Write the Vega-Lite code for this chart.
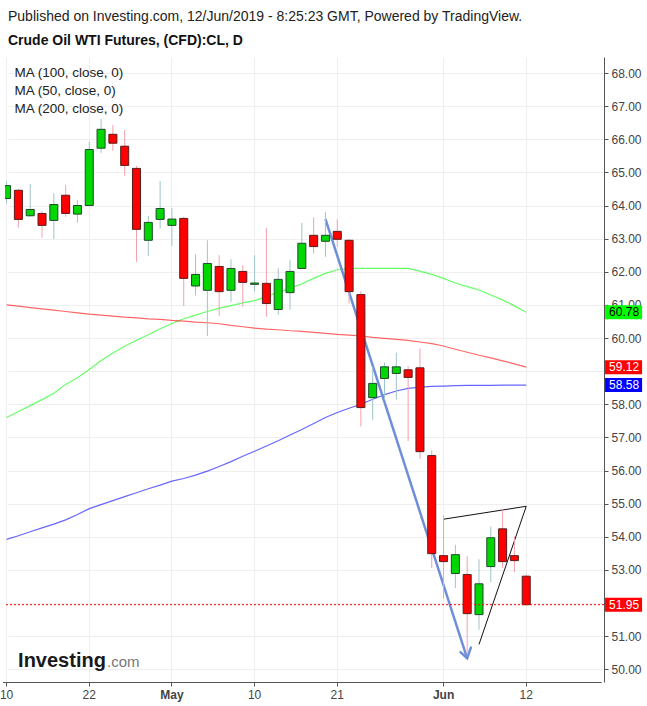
{
  "$schema": "https://vega.github.io/schema/vega-lite/v6.json",
  "width": 599,
  "height": 625,
  "autosize": {"type": "none"},
  "padding": {"left": 5, "top": 57, "right": 43, "bottom": 24},
  "background": "white",
  "config": {"font": "Liberation Sans", "view": {"stroke": null}},
  "title": {
    "text": "Published on Investing.com, 12/Jun/2019 - 8:25:23 GMT, Powered by TradingView.",
    "subtitle": "Crude Oil WTI Futures, (CFD):CL, D",
    "anchor": "start",
    "frame": "group",
    "fontSize": 14,
    "fontWeight": "normal",
    "color": "#222222",
    "subtitleFontSize": 14,
    "subtitleFontWeight": "bold",
    "subtitleColor": "#111111",
    "subtitlePadding": 10,
    "offset": 9,
    "dx": 3
  },
  "datasets": {
    "bars": [
      {"date": "2019-04-10", "open": 64.21, "high": 64.72, "low": 64.06, "close": 64.60, "ma100": 53.92, "ma50": 57.60, "ma200": 61.00},
      {"date": "2019-04-11", "open": 64.46, "high": 64.49, "low": 63.33, "close": 63.58, "ma100": 54.03, "ma50": 57.78, "ma200": 60.96},
      {"date": "2019-04-12", "open": 63.69, "high": 64.65, "low": 63.66, "close": 63.88, "ma100": 54.15, "ma50": 57.96, "ma200": 60.92},
      {"date": "2019-04-15", "open": 63.76, "high": 63.83, "low": 63.02, "close": 63.40, "ma100": 54.27, "ma50": 58.14, "ma200": 60.88},
      {"date": "2019-04-16", "open": 63.55, "high": 64.37, "low": 62.99, "close": 64.03, "ma100": 54.38, "ma50": 58.33, "ma200": 60.84},
      {"date": "2019-04-17", "open": 64.31, "high": 64.62, "low": 63.66, "close": 63.76, "ma100": 54.51, "ma50": 58.60, "ma200": 60.80},
      {"date": "2019-04-18", "open": 63.74, "high": 64.16, "low": 63.48, "close": 64.00, "ma100": 54.67, "ma50": 58.80, "ma200": 60.76},
      {"date": "2019-04-22", "open": 64.00, "high": 65.92, "low": 64.00, "close": 65.69, "ma100": 54.85, "ma50": 59.05, "ma200": 60.72},
      {"date": "2019-04-23", "open": 65.73, "high": 66.61, "low": 65.59, "close": 66.30, "ma100": 54.97, "ma50": 59.32, "ma200": 60.69},
      {"date": "2019-04-24", "open": 66.15, "high": 66.43, "low": 65.65, "close": 65.88, "ma100": 55.09, "ma50": 59.55, "ma200": 60.66},
      {"date": "2019-04-25", "open": 65.79, "high": 66.28, "low": 64.90, "close": 65.21, "ma100": 55.21, "ma50": 59.75, "ma200": 60.63},
      {"date": "2019-04-26", "open": 65.12, "high": 65.19, "low": 62.30, "close": 63.28, "ma100": 55.33, "ma50": 59.93, "ma200": 60.61},
      {"date": "2019-04-29", "open": 62.95, "high": 63.68, "low": 62.48, "close": 63.49, "ma100": 55.45, "ma50": 60.10, "ma200": 60.58},
      {"date": "2019-04-30", "open": 63.58, "high": 64.74, "low": 63.30, "close": 63.91, "ma100": 55.56, "ma50": 60.28, "ma200": 60.56},
      {"date": "2019-05-01", "open": 63.40, "high": 63.92, "low": 62.78, "close": 63.59, "ma100": 55.68, "ma50": 60.44, "ma200": 60.53},
      {"date": "2019-05-02", "open": 63.61, "high": 63.66, "low": 60.97, "close": 61.80, "ma100": 55.76, "ma50": 60.58, "ma200": 60.51},
      {"date": "2019-05-03", "open": 61.57, "high": 62.53, "low": 61.29, "close": 61.92, "ma100": 55.86, "ma50": 60.69, "ma200": 60.48},
      {"date": "2019-05-06", "open": 61.44, "high": 62.95, "low": 60.06, "close": 62.25, "ma100": 55.98, "ma50": 60.80, "ma200": 60.46},
      {"date": "2019-05-07", "open": 62.16, "high": 62.50, "low": 60.67, "close": 61.40, "ma100": 56.12, "ma50": 60.90, "ma200": 60.43},
      {"date": "2019-05-08", "open": 61.44, "high": 62.38, "low": 61.09, "close": 62.10, "ma100": 56.27, "ma50": 60.98, "ma200": 60.38},
      {"date": "2019-05-09", "open": 62.01, "high": 62.20, "low": 60.94, "close": 61.68, "ma100": 56.43, "ma50": 61.06, "ma200": 60.34},
      {"date": "2019-05-10", "open": 61.62, "high": 62.50, "low": 61.41, "close": 61.66, "ma100": 56.58, "ma50": 61.13, "ma200": 60.30},
      {"date": "2019-05-13", "open": 61.65, "high": 63.32, "low": 60.64, "close": 61.04, "ma100": 56.74, "ma50": 61.25, "ma200": 60.27},
      {"date": "2019-05-14", "open": 60.86, "high": 62.11, "low": 60.70, "close": 61.77, "ma100": 56.90, "ma50": 61.38, "ma200": 60.25},
      {"date": "2019-05-15", "open": 61.37, "high": 62.35, "low": 60.85, "close": 62.01, "ma100": 57.07, "ma50": 61.50, "ma200": 60.22},
      {"date": "2019-05-16", "open": 62.10, "high": 63.48, "low": 62.10, "close": 62.86, "ma100": 57.24, "ma50": 61.64, "ma200": 60.20},
      {"date": "2019-05-17", "open": 63.10, "high": 63.64, "low": 62.55, "close": 62.76, "ma100": 57.42, "ma50": 61.80, "ma200": 60.17},
      {"date": "2019-05-20", "open": 62.92, "high": 63.80, "low": 62.45, "close": 63.10, "ma100": 57.60, "ma50": 61.95, "ma200": 60.14},
      {"date": "2019-05-21", "open": 63.22, "high": 63.58, "low": 62.75, "close": 62.98, "ma100": 57.75, "ma50": 62.06, "ma200": 60.11},
      {"date": "2019-05-22", "open": 62.95, "high": 62.98, "low": 61.04, "close": 61.40, "ma100": 57.88, "ma50": 62.10, "ma200": 60.09},
      {"date": "2019-05-23", "open": 61.31, "high": 61.42, "low": 57.33, "close": 57.90, "ma100": 58.00, "ma50": 62.10, "ma200": 60.06},
      {"date": "2019-05-24", "open": 58.20, "high": 59.13, "low": 57.53, "close": 58.63, "ma100": 58.15, "ma50": 62.10, "ma200": 60.02},
      {"date": "2019-05-27", "open": 58.78, "high": 59.26, "low": 58.14, "close": 59.13, "ma100": 58.29, "ma50": 62.10, "ma200": 59.99},
      {"date": "2019-05-28", "open": 58.93, "high": 59.56, "low": 58.14, "close": 59.13, "ma100": 58.40, "ma50": 62.10, "ma200": 59.96},
      {"date": "2019-05-29", "open": 59.04, "high": 59.15, "low": 56.89, "close": 58.81, "ma100": 58.48, "ma50": 62.10, "ma200": 59.93},
      {"date": "2019-05-30", "open": 59.10, "high": 59.68, "low": 56.35, "close": 56.57, "ma100": 58.52, "ma50": 62.02, "ma200": 59.88},
      {"date": "2019-05-31", "open": 56.45, "high": 56.61, "low": 53.06, "close": 53.49, "ma100": 58.54, "ma50": 61.92, "ma200": 59.83},
      {"date": "2019-06-03", "open": 53.43, "high": 54.64, "low": 52.13, "close": 53.25, "ma100": 58.55, "ma50": 61.80, "ma200": 59.76},
      {"date": "2019-06-04", "open": 52.89, "high": 53.76, "low": 52.45, "close": 53.46, "ma100": 58.56, "ma50": 61.66, "ma200": 59.66},
      {"date": "2019-06-05", "open": 52.86, "high": 53.41, "low": 50.47, "close": 51.68, "ma100": 58.57, "ma50": 61.55, "ma200": 59.57},
      {"date": "2019-06-06", "open": 51.65, "high": 53.32, "low": 51.19, "close": 52.58, "ma100": 58.57, "ma50": 61.45, "ma200": 59.48},
      {"date": "2019-06-07", "open": 53.10, "high": 54.31, "low": 52.63, "close": 53.97, "ma100": 58.57, "ma50": 61.30, "ma200": 59.40},
      {"date": "2019-06-10", "open": 54.24, "high": 54.83, "low": 53.06, "close": 53.25, "ma100": 58.58, "ma50": 61.15, "ma200": 59.31},
      {"date": "2019-06-11", "open": 53.43, "high": 54.01, "low": 52.93, "close": 53.28, "ma100": 58.58, "ma50": 60.97, "ma200": 59.22},
      {"date": "2019-06-12", "open": 52.81, "high": 52.86, "low": 51.93, "close": 51.95, "ma100": 58.58, "ma50": 60.78, "ma200": 59.12}
    ],
    "arrow": [
      {"date": "2019-05-20", "v": 63.59},
      {"date": "2019-06-05", "v": 50.33}
    ],
    "arrowTip": [
      {"date": "2019-06-05", "v": 50.33}
    ],
    "wedge": [
      {"seg": "top", "date": "2019-06-03", "v": 54.53},
      {"seg": "top", "date": "2019-06-12", "v": 54.92},
      {"seg": "side", "date": "2019-06-06", "v": 50.75},
      {"seg": "side", "date": "2019-06-12", "v": 54.92}
    ],
    "tags": [
      {"date": "2019-06-20", "series": "ma50", "value": 60.78},
      {"date": "2019-06-20", "series": "ma200", "value": 59.12},
      {"date": "2019-06-20", "series": "ma100", "value": 58.58},
      {"date": "2019-06-20", "series": "close", "value": 51.95}
    ],
    "logo": [
      {"date": "2019-04-10", "part": "Investing", "v": 50.08}
    ]
  },
  "layer": [
    {
      "data": {"name": "bars"},
      "transform": [{"fold": ["ma100", "ma50", "ma200"], "as": ["series", "ma"]}],
      "mark": {"type": "line", "strokeWidth": 1.2, "opacity": 0.6, "clip": true},
      "encoding": {
        "x": {
          "field": "date", "type": "ordinal",
          "scale": {"type": "band", "domain": ["2019-04-10","2019-04-11","2019-04-12","2019-04-15","2019-04-16","2019-04-17","2019-04-18","2019-04-22","2019-04-23","2019-04-24","2019-04-25","2019-04-26","2019-04-29","2019-04-30","2019-05-01","2019-05-02","2019-05-03","2019-05-06","2019-05-07","2019-05-08","2019-05-09","2019-05-10","2019-05-13","2019-05-14","2019-05-15","2019-05-16","2019-05-17","2019-05-20","2019-05-21","2019-05-22","2019-05-23","2019-05-24","2019-05-27","2019-05-28","2019-05-29","2019-05-30","2019-05-31","2019-06-03","2019-06-04","2019-06-05","2019-06-06","2019-06-07","2019-06-10","2019-06-11","2019-06-12","2019-06-13","2019-06-14","2019-06-17","2019-06-18","2019-06-19","2019-06-20"], "range": [-2.42, 596.1], "paddingInner": 0.32, "paddingOuter": 0},
          "axis": {
            "values": ["2019-04-10","2019-04-22","2019-05-01","2019-05-10","2019-05-21","2019-06-03","2019-06-12"],
            "labelExpr": "datum.value == '2019-05-01' ? 'May' : datum.value == '2019-06-03' ? 'Jun' : '' + toNumber(slice(datum.value, 8))",
            "labelFontWeight": {"condition": {"test": "datum.value == '2019-05-01' || datum.value == '2019-06-03'", "value": "bold"}, "value": "normal"},
            "bandPosition": 0.5,
            "title": null,
            "grid": true,
            "gridColor": "#efefef",
            "domainColor": "#555555",
            "tickColor": "#555555",
            "tickSize": 4,
            "labelColor": "#444444",
            "labelFontSize": 12,
            "labelPadding": 3,
            "labelAngle": 0,
            "labelOverlap": false
          }
        },
        "y": {
          "field": "ma", "type": "quantitative",
          "scale": {"domain": [49.616, 68.483], "zero": false, "nice": false},
          "axis": {
            "orient": "right",
            "values": [50,51,52,53,54,55,56,57,58,59,60,61,62,63,64,65,66,67,68],
            "tickCount": 19,
            "labelExpr": "datum.value == 52 || datum.value == 59 ? '' : format(datum.value, '.2f')",
            "title": null,
            "grid": true,
            "gridColor": "#efefef",
            "domainColor": "#555555",
            "tickColor": "#555555",
            "tickSize": 4,
            "labelColor": "#444444",
            "labelFontSize": 12,
            "labelPadding": 3,
            "labelOverlap": false
          }
        },
        "color": {
          "field": "series", "type": "nominal",
          "scale": {"domain": ["ma100", "ma50", "ma200", "close"], "range": ["#0000ff", "#00ff00", "#ff0000", "#ff0000"]},
          "legend": {
            "values": ["ma100", "ma50", "ma200"],
            "labelExpr": "datum.value == 'ma100' ? 'MA (100, close, 0)' : datum.value == 'ma50' ? 'MA (50, close, 0)' : 'MA (200, close, 0)'",
            "orient": "none",
            "legendX": -4,
            "legendY": 9,
            "symbolSize": 0,
            "symbolStrokeWidth": 0,
            "symbolOpacity": 0,
            "labelOffset": 0,
            "labelFontSize": 13.5,
            "labelColor": "#222222",
            "rowPadding": 3,
            "padding": 0,
            "title": null
          }
        }
      }
    },
    {
      "data": {"name": "arrow"},
      "mark": {"type": "line", "color": "#6e8fd8", "strokeWidth": 2.5, "clip": true},
      "encoding": {
        "x": {"field": "date", "type": "ordinal"},
        "y": {"field": "v", "type": "quantitative"}
      }
    },
    {
      "data": {"name": "arrowTip"},
      "mark": {"type": "point", "shape": "M-6.7,-6.3 L0,0 L3.7,-10.7", "size": 4, "filled": false, "stroke": "#6e8fd8", "strokeWidth": 2.5, "strokeCap": "round", "opacity": 1},
      "encoding": {
        "x": {"field": "date", "type": "ordinal"},
        "y": {"field": "v", "type": "quantitative"}
      }
    },
    {
      "data": {"name": "wedge"},
      "mark": {"type": "line", "color": "#111111", "strokeWidth": 1, "clip": true},
      "encoding": {
        "x": {"field": "date", "type": "ordinal"},
        "y": {"field": "v", "type": "quantitative"},
        "detail": {"field": "seg", "type": "nominal"}
      }
    },
    {
      "data": {"name": "bars"},
      "mark": {"type": "rule", "strokeWidth": 1, "clip": true},
      "encoding": {
        "x": {"field": "date", "type": "ordinal"},
        "y": {"field": "low", "type": "quantitative"},
        "y2": {"field": "high"},
        "color": {"condition": {"test": "datum.close >= datum.open", "value": "#9ec4cc"}, "value": "#f4a0aa"}
      }
    },
    {
      "data": {"name": "bars"},
      "mark": {"type": "bar", "strokeWidth": 1, "clip": true},
      "encoding": {
        "x": {"field": "date", "type": "ordinal"},
        "y": {"field": "open", "type": "quantitative"},
        "y2": {"field": "close"},
        "fill": {"condition": {"test": "datum.close >= datum.open", "value": "#00d600"}, "value": "#ff0000"},
        "stroke": {"condition": {"test": "datum.close >= datum.open", "value": "#1f4a2c"}, "value": "#5a1c1c"}
      }
    },
    {
      "data": {"values": [{"price": 51.95}]},
      "mark": {"type": "rule", "color": "#ff0000", "strokeWidth": 1, "strokeDash": [2, 2]},
      "encoding": {
        "y": {"field": "price", "type": "quantitative"}
      }
    },
    {
      "data": {"name": "tags"},
      "mark": {"type": "point", "shape": "M8,-7 H45 V7 H8 Z", "size": 4, "filled": true, "opacity": 1, "strokeWidth": 0},
      "encoding": {
        "x": {"field": "date", "type": "ordinal"},
        "y": {"field": "value", "type": "quantitative"},
        "color": {"field": "series", "type": "nominal", "legend": null}
      }
    },
    {
      "data": {"name": "tags"},
      "mark": {"type": "text", "align": "left", "baseline": "middle", "dx": 12, "fontSize": 12},
      "encoding": {
        "x": {"field": "date", "type": "ordinal"},
        "y": {"field": "value", "type": "quantitative"},
        "text": {"field": "value", "type": "quantitative", "format": ".2f"},
        "color": {"condition": {"test": "datum.series == 'ma50'", "value": "#000000"}, "value": "#ffffff"}
      }
    },
    {
      "data": {"name": "logo"},
      "mark": {"type": "text", "align": "left", "baseline": "alphabetic", "dx": 11.5, "fontSize": 20, "fontWeight": "bold", "color": "#1a1a1a"},
      "encoding": {
        "x": {"field": "date", "type": "ordinal"},
        "y": {"field": "v", "type": "quantitative"},
        "text": {"field": "part"}
      }
    },
    {
      "data": {"name": "logo"},
      "mark": {"type": "text", "align": "left", "baseline": "alphabetic", "dx": 100.5, "fontSize": 15, "color": "#777777", "text": ".com"},
      "encoding": {
        "x": {"field": "date", "type": "ordinal"},
        "y": {"field": "v", "type": "quantitative"}
      }
    }
  ]
}
